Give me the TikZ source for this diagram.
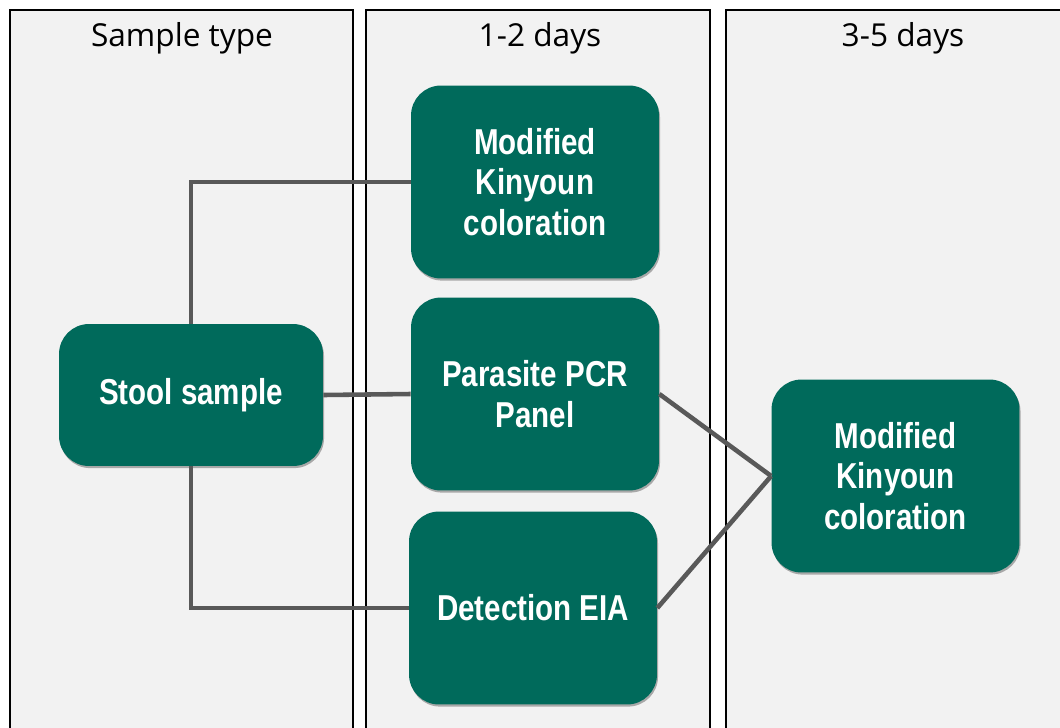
\documentclass[tikz,border=0pt]{standalone}
\usepackage{fontspec}
\setmainfont{Open Sans}
\newfontfamily\boxfont{Liberation Sans}[FakeStretch=0.82]
\usetikzlibrary{shadows}

\definecolor{stagegreen}{HTML}{006A5B}
\definecolor{lanegray}{HTML}{F2F2F2}
\definecolor{linkgray}{HTML}{595959}

\tikzset{
  lane/.style={draw=black,line width=0.8pt,fill=lanegray},
  lanehead/.style={font=\fontsize{18}{21}\selectfont},
  stage/.style={rectangle,rounded corners=0.6cm,fill=stagegreen,text=white,
    align=center,font=\boxfont\bfseries\fontsize{20.5}{23}\selectfont,
    minimum width=4.96cm,minimum height=3.86cm,
    drop shadow={shadow xshift=0.6pt,shadow yshift=-1.2pt,opacity=0.3,fill=black}},
  link/.style={draw=linkgray,line width=2.6pt}
}

\begin{document}
\begin{tikzpicture}[x=0.02cm,y=-0.02cm]
  \useasboundingbox (0,0) rectangle (1060,727);
  %
  \draw[lane] (10,10) rectangle (353,745);
  \draw[lane] (366,10) rectangle (710,745);
  \draw[lane] (726,10) rectangle (1075,745);
  \node[lanehead] (headtype) at (182,38) {Sample type};
  \node[lanehead] (headshort) at (540,38) {1-2 days};
  \node[lanehead] (headlong) at (903,38) {3-5 days};
  %
  \node[stage,minimum width=5.28cm,minimum height=2.84cm] (stool) at (191,395) {Stool sample};
  \node[stage] (kinyoun) at (535,182) {Modified\\Kinyoun\\coloration};
  \node[stage] (pcr) at (535,394) {Parasite PCR\\Panel};
  \node[stage] (eia) at (533,608) {Detection EIA};
  \node[stage] (kinyounlate) at (895.5,476) {Modified\\Kinyoun\\coloration};
  %
  \draw[link] (stool.north) |- (kinyoun.west);
  \draw[link] (stool.east) -- (pcr.west);
  \draw[link] (stool.south) |- (eia.west);
  \draw[link] (pcr.east) -- (kinyounlate.west);
  \draw[link] (eia.east) -- (kinyounlate.west);
  %
\end{tikzpicture}
\end{document}
